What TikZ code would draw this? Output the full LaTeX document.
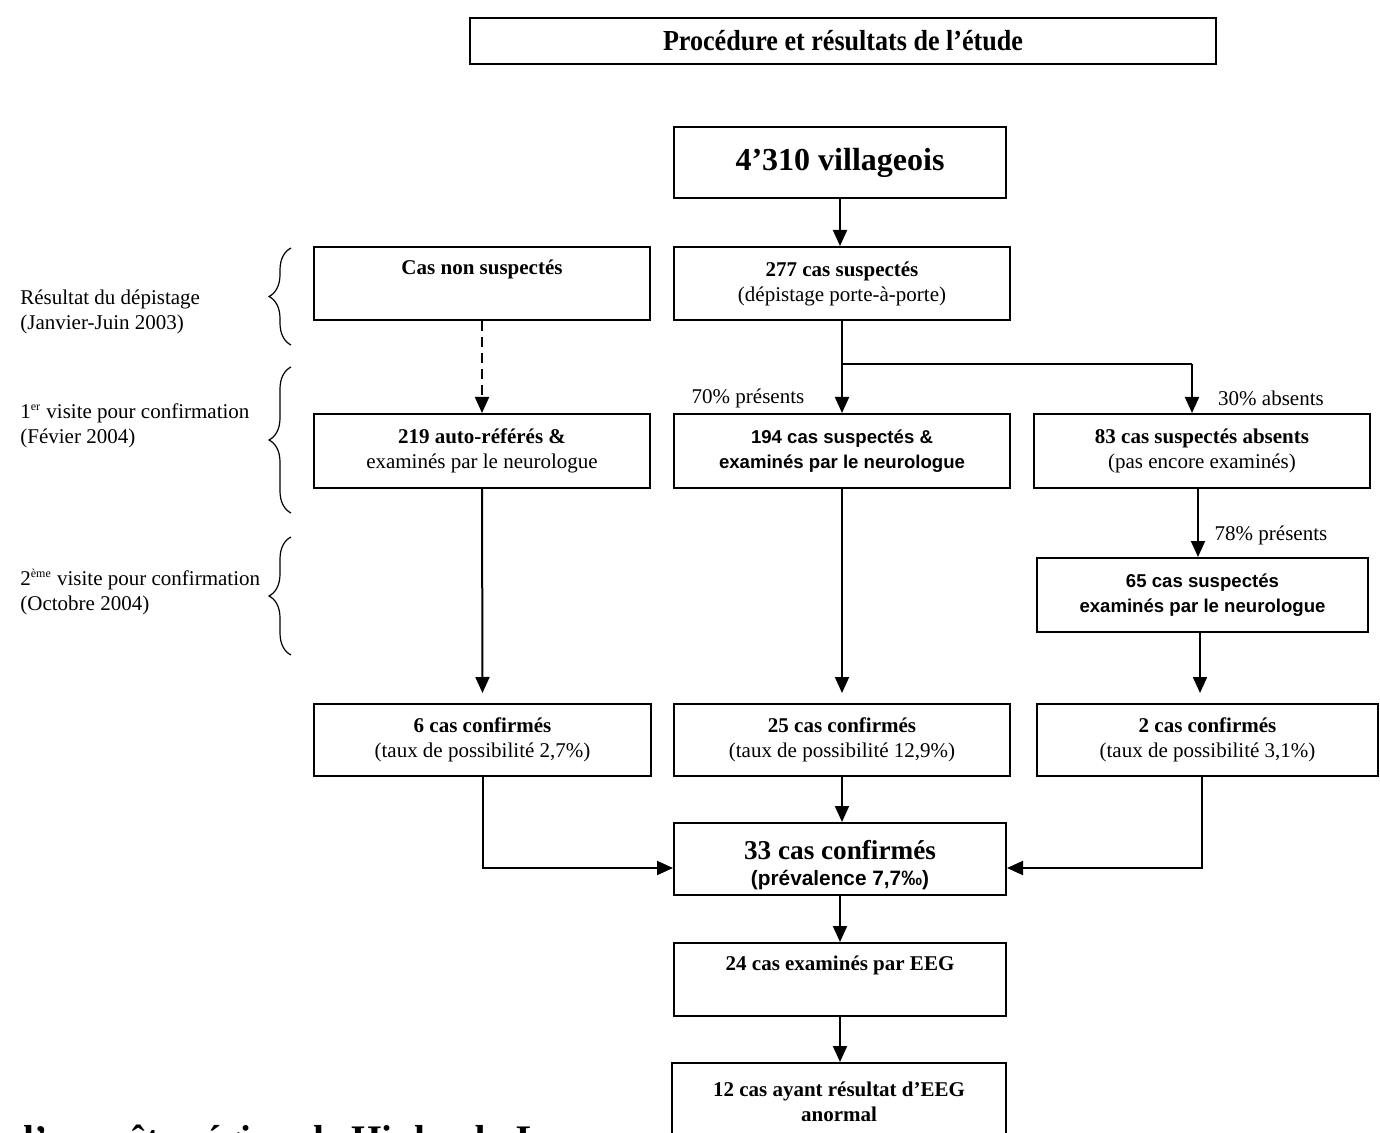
\documentclass[tikz,border=0pt]{standalone}
\usepackage{fontspec}
\setmainfont{Liberation Serif}
\newfontfamily\arialf{Liberation Sans}
\usetikzlibrary{arrows.meta,decorations.pathreplacing}
\tikzset{
  box/.style={draw, line width=1pt, fill=white, inner sep=0pt, align=center,
    font=\fontsize{10.5}{12.5}\selectfont},
  arr/.style={line width=1pt, -{Triangle[width=7pt,length=8pt]}},
  plain/.style={line width=1pt},
  lbl/.style={inner sep=0pt, font=\fontsize{10.5}{12.5}\selectfont},
  brc/.style={line width=0.6pt, decorate, decoration={brace, amplitude=11pt}},
}
\newcommand{\ab}[1]{{\arialf\bfseries\fontsize{9.3}{12.5}\selectfont #1}}
\begin{document}
\begin{tikzpicture}[x=0.5pt,y=-0.5pt]
\useasboundingbox (0,0) rectangle (1380,1133);
\clip (0,0) rectangle (1380,1133);
\fill[white] (0,0) rectangle (1380,1133);

% title
\node[box, minimum width=373pt, minimum height=23pt] (title) at (843,41)
  {\fontsize{14.5}{16}\bfseries\scalebox{0.9}[1]{Procédure et résultats de l’étude}};

% main boxes
\node[box, minimum width=166pt, minimum height=35.5pt] (vil) at (840,162.5)
  {\fontsize{16}{18}\bfseries 4’310 villageois};
\node[box, minimum width=168pt, minimum height=36.5pt] (cns) at (482,283.5)
  {\textbf{Cas non suspectés}\\ \strut};
\node[box, minimum width=168pt, minimum height=36.5pt] (s277) at (842,283.5)
  {\textbf{277 cas suspectés}\\(dépistage porte-à-porte)};
\node[box, minimum width=168pt, minimum height=37pt] (a219) at (482,451)
  {\textbf{219 auto-référés \&}\\examinés par le neurologue};
\node[box, minimum width=168pt, minimum height=37pt] (s194) at (842,451)
  {\ab{194 cas suspectés \&}\\\ab{examinés par le neurologue}};
\node[box, minimum width=168pt, minimum height=37pt] (s83) at (1202,451)
  {\textbf{83 cas suspectés absents}\\(pas encore examinés)};
\node[box, minimum width=165.5pt, minimum height=37pt] (s65) at (1202.5,595)
  {\ab{65 cas suspectés}\\\ab{examinés par le neurologue}};
\node[box, minimum width=168.5pt, minimum height=36pt] (c6) at (482.5,740)
  {\textbf{6 cas confirmés}\\(taux de possibilité 2,7\%)};
\node[box, minimum width=168pt, minimum height=36pt] (c25) at (842,740)
  {\textbf{25 cas confirmés}\\(taux de possibilité 12,9\%)};
\node[box, minimum width=170.5pt, minimum height=36pt] (c2) at (1207.5,740)
  {\textbf{2 cas confirmés}\\(taux de possibilité 3,1\%)};
\node[box, minimum width=166pt, minimum height=36pt] (c33) at (840,859)
  {\rule{0pt}{15.5pt}{\fontsize{13.6}{14}\selectfont\bfseries 33 cas confirmés}\\[0.5pt]{\arialf\bfseries\fontsize{10.4}{12}\selectfont (prévalence 7,7‰)}};
\node[box, minimum width=166pt, minimum height=36.5pt] (eeg) at (840,979.5)
  {\textbf{24 cas examinés par EEG}\\ \strut};

% bottom caption fragment (clipped by the page edge, as in the reference)
\node[anchor=base west, inner sep=0pt, font=\fontsize{19.5}{24}\bfseries] (cap) at (12,1152)
  {d’enquête région de Hinheub, Laos};

\node[box, minimum width=167pt, minimum height=38.5pt] (ab) at (839,1101.5)
  {\textbf{12 cas ayant résultat d’EEG}\\\textbf{anormal}};

% left labels
\node[lbl, anchor=west, align=left] (l1) at (20,312)
  {Résultat du dépistage\\(Janvier-Juin 2003)};
\node[lbl, anchor=west, align=left] (l2) at (20,426)
  {1\textsuperscript{\fontsize{6}{6}\selectfont er} visite pour confirmation\\(Févier 2004)};
\node[lbl, anchor=west, align=left] (l3) at (20,592)
  {2\textsuperscript{\fontsize{6}{6}\selectfont ème} visite pour confirmation\\(Octobre 2004)};

% braces
\draw[brc] (291,345) -- (291,248);
\draw[brc] (291,513) -- (291,367);
\draw[brc] (291,655) -- (291,537);

% connector labels
\node[lbl] (p70) at (748,398) {70\% présents};
\node[lbl] (p30) at (1271,398) {30\% absents};
\node[lbl] (p78) at (1271,535) {78\% présents};

% connectors
\coordinate (j1) at (842,364);
\coordinate (j2) at (1192,364);
\draw[arr] (vil.south) -- (vil.south |- s277.north);
\draw[plain] (s277.south) -- (j1) -- (j2);
\draw[arr] (j1) -- (s194.north);
\draw[arr] (j2) -- (j2 |- s83.north);
\draw[arr, dashed, dash pattern=on 5pt off 3pt] (cns.south) -- (a219.north);
\draw[arr] (a219.south) -- ([yshift=5pt]c6.north);
\draw[arr] (s194.south) -- ([yshift=5pt]c25.north);
\coordinate (k1) at (1198,0);
\draw[arr] (k1 |- s83.south) -- (k1 |- s65.north);
\coordinate (k2) at (1200,0);
\draw[arr] (k2 |- s65.south) -- ([yshift=5pt]k2 |- c2.north);
\draw[arr] (c6.south) |- ([yshift=-4.5pt]c33.west);
\coordinate (k3) at (1202,0);
\draw[arr] (k3 |- c2.south) |- ([yshift=-4.5pt]c33.east);
\draw[arr] (c25.south) -- (c25.south |- c33.north);
\draw[arr] (c33.south) -- (eeg.north);
\draw[arr] (eeg.south) -- (eeg.south |- ab.north);
\end{tikzpicture}
\end{document}
